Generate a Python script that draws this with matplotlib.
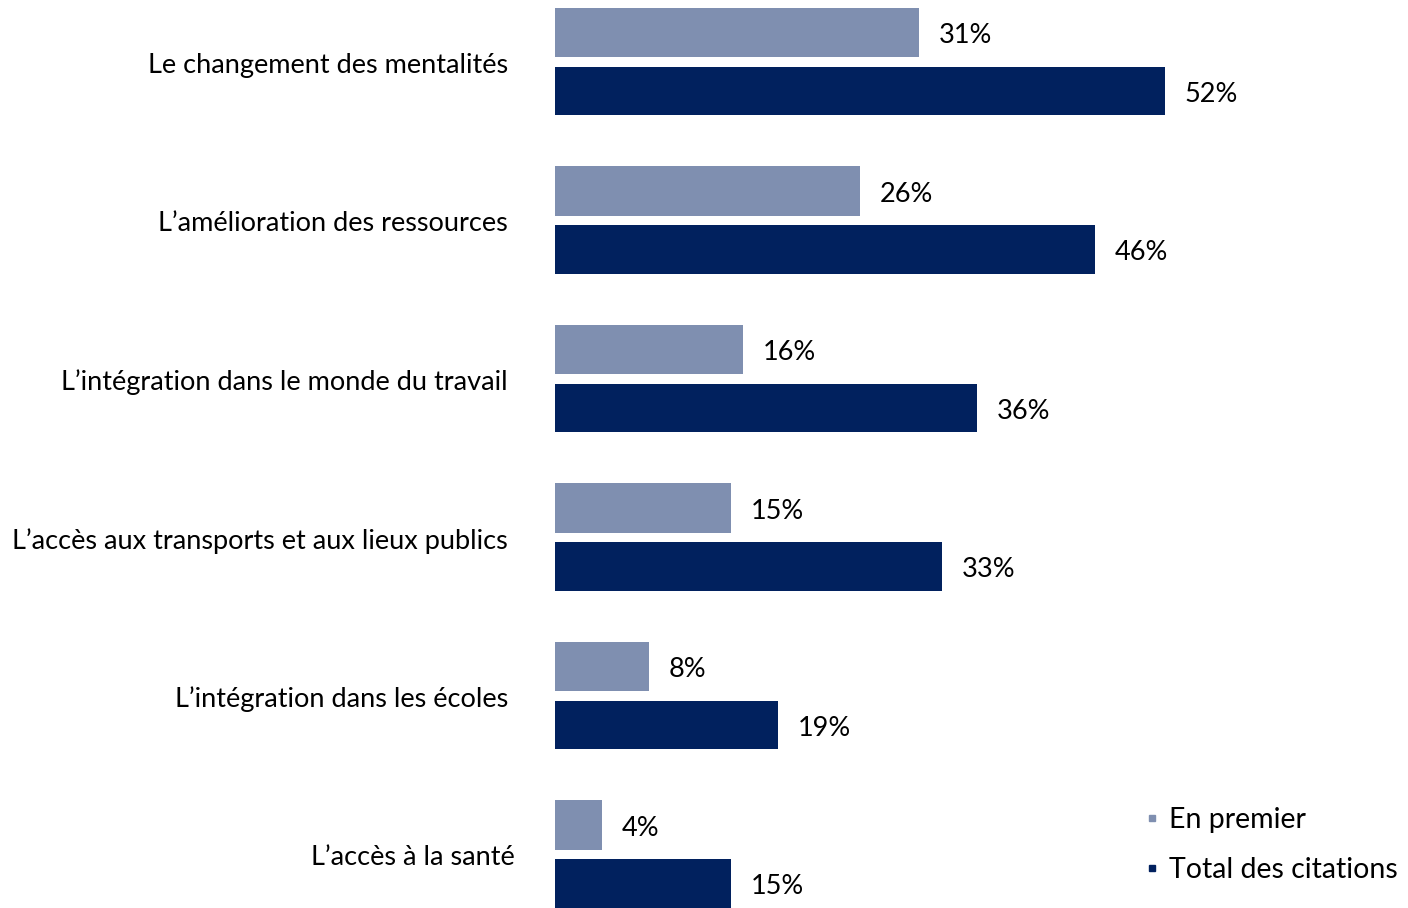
import matplotlib.pyplot as plt
from matplotlib.lines import Line2D

categories = [
    "Le changement des mentalités",
    "L\u2019amélioration des ressources",
    "L\u2019intégration dans le monde du travail",
    "L\u2019accès aux transports et aux lieux publics",
    "L\u2019intégration dans les écoles",
    "L\u2019accès à la santé",
]
en_premier = [31, 26, 16, 15, 8, 4]
total_citations = [52, 46, 36, 33, 19, 15]
series_names = ["En premier", "Total des citations"]

LIGHT = "#7f8fb0"
DARK = "#01215e"

plt.rcParams["font.family"] = ["Lato", "DejaVu Sans"]

fig = plt.figure(figsize=(14.08, 9.08), dpi=100)
ax = fig.add_axes([555 / 1408, 0, 1 - 555 / 1408, 1])

ypos = list(range(len(categories)))
ax.barh([y - 0.186 for y in ypos], en_premier, height=0.31, color=LIGHT)
ax.barh([y + 0.183 for y in ypos], total_citations, height=0.305, color=DARK)

# text sits a bit low in the original, nudge down
dy = 0.022
for y, v in zip(ypos, en_premier):
    ax.text(v + 1.7, y - 0.186 + dy, f"{v}%", va="center", ha="left", fontsize=19.5)
for y, v in zip(ypos, total_citations):
    ax.text(v + 1.7, y + 0.183 + dy, f"{v}%", va="center", ha="left", fontsize=19.5)

for y, c in zip(ypos, categories):
    xoff = -3.4 if y == len(categories) - 1 else -4.0
    ax.text(xoff, y + dy, c, va="center", ha="right", fontsize=19.5, clip_on=False)

ax.set_xlim(0, 853 / 11.73)
ax.set_ylim(5.338, -0.391)
ax.axis("off")

handles = [
    Line2D([], [], marker="s", linestyle="none", markersize=5, color=LIGHT),
    Line2D([], [], marker="s", linestyle="none", markersize=5, color=DARK),
]
fig.legend(handles, series_names, loc="center left",
           bbox_to_anchor=(1118 / 1408, 1 - 845 / 908), frameon=False,
           fontsize=20.5, handlelength=0.6, handletextpad=0.3, labelspacing=0.85)

fig.savefig("out.png", dpi=100)
